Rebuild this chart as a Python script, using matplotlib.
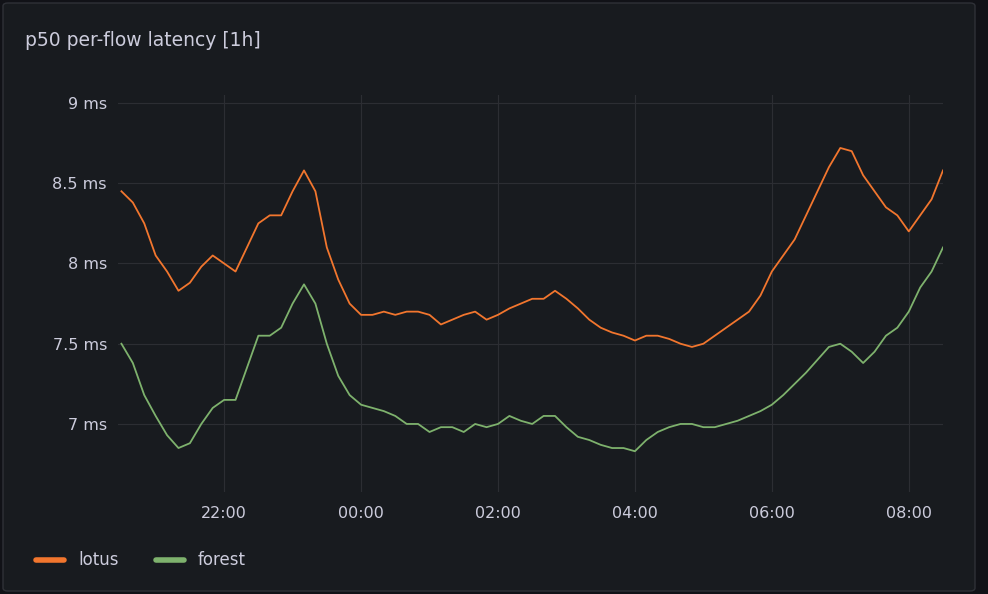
import matplotlib
matplotlib.use("Agg")
import matplotlib.pyplot as plt
import numpy as np
from matplotlib.patches import FancyBboxPatch

start_hour = 20.5
step_min = 10
lotus = [8.45,8.38,8.25,8.05,7.95,7.83,7.88,7.98,8.05,8.0,7.95,8.1,8.25,8.3,8.3,8.45,8.58,8.45,8.1,7.9,7.75,
         7.68,7.68,7.7,7.68,7.7,7.7,7.68,7.62,7.65,7.68,7.7,7.65,7.68,7.72,7.75,7.78,7.78,7.83,7.78,7.72,7.65,
         7.6,7.57,7.55,7.52,7.55,7.55,7.53,7.5,7.48,7.5,7.55,7.6,7.65,7.7,7.8,7.95,8.05,8.15,8.3,8.45,8.6,8.72,
         8.7,8.55,8.45,8.35,8.3,8.2,8.3,8.4,8.58]
forest = [7.5,7.38,7.18,7.05,6.93,6.85,6.88,7.0,7.1,7.15,7.15,7.35,7.55,7.55,7.6,7.75,7.87,7.75,7.5,7.3,7.18,
          7.12,7.1,7.08,7.05,7.0,7.0,6.95,6.98,6.98,6.95,7.0,6.98,7.0,7.05,7.02,7.0,7.05,7.05,6.98,6.92,6.9,
          6.87,6.85,6.85,6.83,6.9,6.95,6.98,7.0,7.0,6.98,6.98,7.0,7.02,7.05,7.08,7.12,7.18,7.25,7.32,7.4,7.48,7.5,
          7.45,7.38,7.45,7.55,7.6,7.7,7.85,7.95,8.1]
tick_hours = [22, 24, 26, 28, 30, 32]
tick_labels = ["22:00", "00:00", "02:00", "04:00", "06:00", "08:00"]
y_ticks = [7, 7.5, 8, 8.5, 9]
y_labels = ["7 ms", "7.5 ms", "8 ms", "8.5 ms", "9 ms"]

bg = "#181b1f"
txt = "#ccccdc"
W, H = 988, 594
fig = plt.figure(figsize=(W/100, H/100), dpi=100, facecolor="#111217")
fig.patches.append(FancyBboxPatch((3/W, 3/H), 972/W, 588/H, boxstyle="round,pad=0,rounding_size=0.005",
                                  transform=fig.transFigure, facecolor=bg, edgecolor="#2f3137", lw=1,
                                  zorder=-10))
hours = start_hour + np.arange(len(lotus)) * step_min / 60
ax = fig.add_axes([118/W, 1-492/H, (943-118)/W, (492-95)/H])
ax.set_facecolor(bg)
ax.plot(hours, lotus, color="#f2762e", lw=1.3)
ax.plot(hours, forest, color="#7eb26d", lw=1.3)
ax.set_xlim(20.45, 32.5)
ax.set_ylim(6.576, 9.05)
ax.set_xticks(tick_hours, tick_labels)
ax.set_yticks(y_ticks, y_labels)
ax.grid(True, color="#2c2e33", lw=0.8)
for s in ax.spines.values():
    s.set_visible(False)
ax.tick_params(colors=txt, labelsize=11.5, length=0, pad=10)
ax.tick_params(axis="y", pad=8)
fig.text(25/W, 1-40/H, "p50 per-flow latency [1h]", color=txt, fontsize=13.5, va="center", fontweight="medium")
for x0, name, c in [(36, "lotus", "#f2762e"), (156, "forest", "#7eb26d")]:
    fig.lines.append(plt.Line2D([x0/W, (x0+28)/W], [1-560/H]*2, color=c, lw=4, solid_capstyle="round",
                                transform=fig.transFigure))
    fig.text((x0+42)/W, 1-560/H, name, color=txt, fontsize=12, va="center")
fig.savefig("out.png", dpi=100, facecolor=fig.get_facecolor())
